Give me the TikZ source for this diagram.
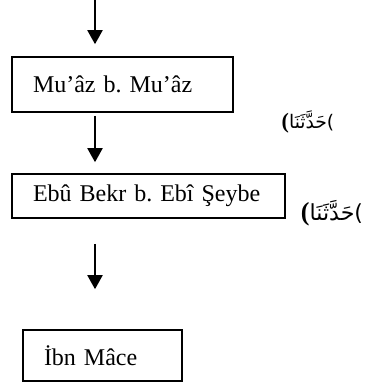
\documentclass[tikz,border=0pt]{standalone}
\usepackage{fontspec}
\setmainfont{Liberation Serif}
\newfontfamily\arabicfont[Script=Arabic,Scale=0.85]{DejaVu Sans}
\TeXXeTstate=1
\frenchspacing
\usetikzlibrary{arrows.meta,positioning}

\begin{document}
\begin{tikzpicture}[x=0.5pt, y=-0.5pt,
    namebox/.style={draw, line width=0.8pt, align=left, inner xsep=10.5pt, inner ysep=0pt, font=\fontsize{12}{14}\selectfont},
    flow/.style={-{Triangle[width=7.5pt,length=7pt]}, line width=1pt},
    rawi/.style={inner sep=0pt}]
  \useasboundingbox (0,0) rectangle (370,385);

  % chain of narrators
  \coordinate (top) at (95,0);
  \node[namebox, text width=89.5pt, minimum height=27.5pt] (b1) at (122.5,84.5) {\mbox{Mu’âz b. Mu’âz}};
  \node[namebox, text width=115.5pt, minimum height=22pt] (b2) at (148.5,196) {\mbox{Ebû Bekr b. Ebî Şeybe}};
  \node[namebox, text width=58.5pt, minimum height=25.5pt] (b3) at (102.5,355.5) {\mbox{İbn Mâce}};

  \draw[flow, shorten >=6pt] (top) -- (b1.north -| top);
  \draw[flow, shorten <=1.5pt, shorten >=5.5pt] (b1.south -| top) -- (b2.north -| top);
  \draw[flow, shorten <=12.5pt, shorten >=20pt] (b2.south -| top) -- (b3.north -| top);

  % transmission terms
  \node[rawi, font=\fontsize{11}{13}\selectfont\bfseries] (t1) at (308,122) {(\arabicfont\mdseries\beginR حَدَّثَنَا\endR)};
  \node[rawi, font=\fontsize{13}{15}\selectfont\bfseries] (t2) at (332,213) {(\arabicfont\mdseries\beginR حَدَّثَنَا\endR)};
\end{tikzpicture}
\end{document}
